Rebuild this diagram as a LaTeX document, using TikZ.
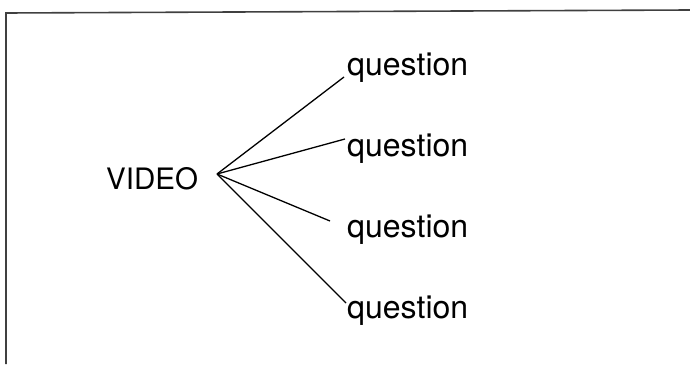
\documentclass[tikz,border=0pt]{standalone}
\usepackage{fontspec}
\setmainfont{TeX Gyre Heros}
\begin{document}
\begin{tikzpicture}[x=1pt,y=-1pt,
  lbl/.style={inner sep=0pt,anchor=base west,font=\fontsize{32}{32}\selectfont},
  link/.style={line width=1.3pt,black},
  frame/.style={line width=1.6pt,black!75}]
\useasboundingbox (0,0) rectangle (690,364);
\draw[frame] (690,10) -- (6,13) -- (6,364);
\node[lbl,font=\fontsize{29.5}{29.5}\selectfont] (video) at (106,189) {VIDEO};
\coordinate (hub) at (217,174);
\node[lbl] (q1) at (347,75) {question};
\node[lbl] (q2) at (347,156) {question};
\node[lbl] (q3) at (347,237) {question};
\node[lbl] (q4) at (347,318) {question};
\coordinate (e1) at (344,77);
\coordinate (e2) at (345,139);
\coordinate (e3) at (330,221);
\coordinate (e4) at (346,303);
\draw[link] (hub) -- (e1);
\draw[link] (hub) -- (e2);
\draw[link] (hub) -- (e3);
\draw[link] (hub) -- (e4);
\end{tikzpicture}
\end{document}
